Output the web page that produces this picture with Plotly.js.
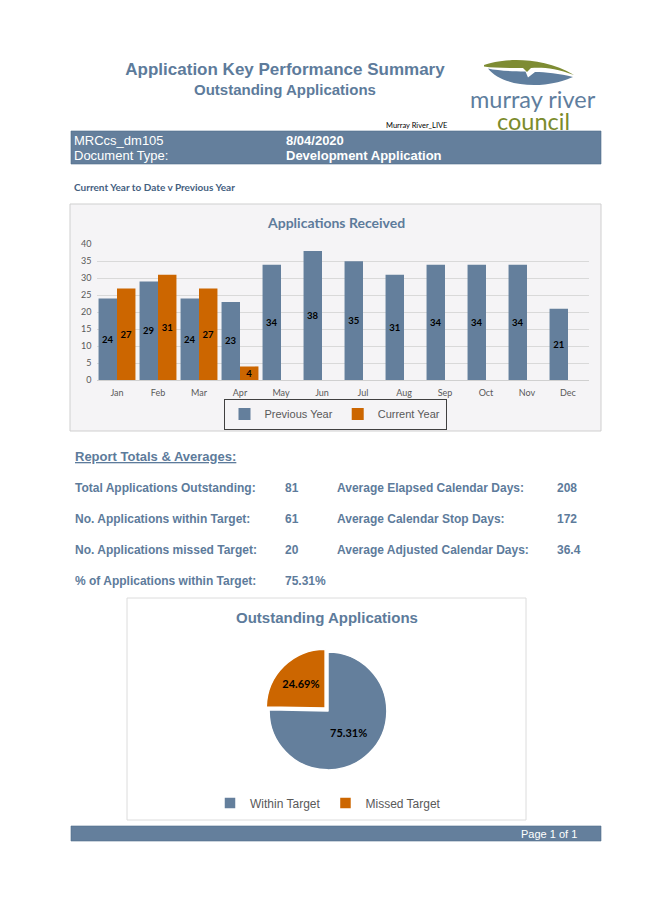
<!DOCTYPE html>
<html>
<head>
<meta charset="utf-8">
<script src="https://cdn.plot.ly/plotly-3.0.1.min.js"></script>
<style>html,body{margin:0;padding:0;background:#fff;}#chart{width:645px;height:912px;}</style>
</head>
<body>
<div id="chart"></div>
<script>
// ---- data ----
const months = ['Jan','Feb','Mar','Apr','May','Jun','Jul','Aug','Sep','Oct','Nov','Dec'];
const previousYear = [24,29,24,23,34,38,35,31,34,34,34,21];
const currentMonths = ['Jan','Feb','Mar','Apr'];
const currentYear = [27,31,27,4];
const yTicks = [0,5,10,15,20,25,30,35,40];
const pieLabels = ['Within Target','Missed Target'];
const pieValues = [61,20];
const leftStatLabels = ['Total Applications Outstanding:','No. Applications within Target:','No. Applications missed Target:','% of Applications within Target:'];
const leftStatValues = ['81','61','20','75.31%'];
const rightStatLabels = ['Average Elapsed Calendar Days:','Average Calendar Stop Days:','Average Adjusted Calendar Days:'];
const rightStatValues = ['208','172','36.4'];
const headerLabels = ['MRCcs_dm105','Document Type:'];
const headerValues = ['8/04/2020','Development Application'];

// ---- helpers ----
const W = 645, H = 912;
const fx = x => x / W;
const fy = y => 1 - y / H;
const P = (x, y) => fx(x).toFixed(5) + ',' + fy(y).toFixed(5);

const BLUE = '#647f9c';
const ORANGE = '#cc6600';
const TXT = '#5d7b9b';
const ARIAL = 'Liberation Sans, Arial, sans-serif';
const CAL = 'Lato, Carlito, Calibri, sans-serif';

const traces = [
  {
    type: 'bar', name: 'Previous Year', x: months, y: previousYear,
    marker: {color: BLUE},
    text: previousYear.map(String), textposition: 'inside', insidetextanchor: 'middle',
    textangle: 0, constraintext: 'none',
    textfont: {family: CAL, size: 9.5, color: '#000', weight: 700},
    xaxis: 'x', yaxis: 'y', legend: 'legend', hoverinfo: 'x+y'
  },
  {
    type: 'bar', name: 'Current Year', x: currentMonths, y: currentYear,
    marker: {color: ORANGE},
    text: currentYear.map(String), textposition: 'inside', insidetextanchor: 'middle',
    textangle: 0, constraintext: 'none',
    textfont: {family: CAL, size: 9.5, color: '#000', weight: 700},
    xaxis: 'x', yaxis: 'y', legend: 'legend', hoverinfo: 'x+y'
  },
  {
    type: 'pie', labels: pieLabels, values: pieValues, sort: false,
    direction: 'clockwise', rotation: 0, pull: [0, 0.07],
    marker: {colors: [BLUE, ORANGE], line: {color: '#ffffff', width: 1.5}},
    texttemplate: '%{percent:.2%}', textposition: 'inside',
    insidetextfont: {family: CAL, size: 11, color: '#000', weight: 700},
    domain: {x: [fx(328 - 63), fx(328 + 63)], y: [fy(711 + 63), fy(711 - 63)]},
    legend: 'legend2', showlegend: true
  }
];

const ann = [];
function txt(text, x, y, opt) {
  ann.push(Object.assign({
    text: text, x: fx(x), y: fy(y), xref: 'paper', yref: 'paper',
    showarrow: false, xanchor: 'left', yanchor: 'middle',
    font: {family: ARIAL, size: 11, color: TXT}
  }, opt || {}));
}

// header
txt('<b>Outstanding Applications</b>', 285, 89, {xanchor: 'center', font: {family: ARIAL, size: 15, color: TXT}});
txt('Murray River_LIVE', 416, 125, {xanchor: 'center', font: {family: CAL, size: 7.5, color: '#000'}});
txt('murray river', 533, 99, {xanchor: 'center', font: {family: CAL, size: 23.5, color: '#5f7e9e'}});
txt('council', 533, 121, {xanchor: 'center', font: {family: CAL, size: 23.5, color: '#7b8b2c'}});
headerLabels.forEach((t, i) => txt(t, 72, 140 + i * 16, {font: {family: ARIAL, size: 13, color: '#fff'}}));
headerValues.forEach((t, i) => txt('<b>' + t + '</b>', 284, 140 + i * 16, {font: {family: ARIAL, size: 13, color: '#fff'}}));
txt('<b>Current Year to Date v Previous Year</b>', 72, 187, {font: {family: CAL, size: 10, color: '#44607f'}});
txt('<b>Applications Received</b>', 336, 222, {xanchor: 'center', font: {family: CAL, size: 14, color: TXT}});

// report totals
txt('<b>Report Totals &amp; Averages:</b>', 73, 456, {font: {family: ARIAL, size: 13, color: TXT, lineposition: 'under'}});
leftStatLabels.forEach((t, i) => txt('<b>' + t + '</b>', 73, 488 + i * 31, {font: {family: ARIAL, size: 12, color: TXT}}));
leftStatValues.forEach((t, i) => txt('<b>' + t + '</b>', 283, 488 + i * 31, {font: {family: ARIAL, size: 12, color: TXT}}));
rightStatLabels.forEach((t, i) => txt('<b>' + t + '</b>', 335, 488 + i * 31, {font: {family: ARIAL, size: 12, color: TXT}}));
rightStatValues.forEach((t, i) => txt('<b>' + t + '</b>', 555, 488 + i * 31, {font: {family: ARIAL, size: 12, color: TXT}}));

txt('<b>Outstanding Applications</b>', 327, 617, {xanchor: 'center', font: {family: ARIAL, size: 15, color: TXT}});
txt('Page 1 of 1', 579, 834, {xanchor: 'right', font: {family: ARIAL, size: 11, color: '#fff'}});

const shapes = [
  // header band
  {type: 'rect', xref: 'paper', yref: 'paper', x0: fx(71), x1: fx(601), y0: fy(164), y1: fy(131),
   fillcolor: BLUE, line: {color: '#4f6b89', width: 0.6}, layer: 'below'},
  // bar chart frame
  {type: 'rect', xref: 'paper', yref: 'paper', x0: fx(70), x1: fx(601), y0: fy(431), y1: fy(204),
   fillcolor: '#f5f4f6', line: {color: '#cfcfcf', width: 1}, layer: 'below'},
  // pie frame
  {type: 'rect', xref: 'paper', yref: 'paper', x0: fx(127), x1: fx(526), y0: fy(820), y1: fy(598),
   fillcolor: '#ffffff', line: {color: '#dcdcdc', width: 1}, layer: 'below'},
  // footer band
  {type: 'rect', xref: 'paper', yref: 'paper', x0: fx(71), x1: fx(601), y0: fy(841), y1: fy(826),
   fillcolor: BLUE, line: {color: '#4f6b89', width: 0.6}, layer: 'below'},
  // logo swoosh - green
  {type: 'path', xref: 'paper', yref: 'paper', layer: 'above', line: {width: 0}, fillcolor: '#7e8c33',
   path: 'M ' + P(484, 65) + ' C ' + P(500, 59) + ' ' + P(540, 55) + ' ' + P(574, 75) +
         ' C ' + P(556, 68) + ' ' + P(541, 67) + ' ' + P(531, 68) +
         ' L ' + P(527, 72) + ' L ' + P(523, 68) +
         ' C ' + P(506, 68) + ' ' + P(493, 68) + ' ' + P(484, 66.5) + ' Z'},
  // logo swoosh - blue
  {type: 'path', xref: 'paper', yref: 'paper', layer: 'above', line: {width: 0}, fillcolor: '#5f7e9e',
   path: 'M ' + P(488, 68.5) + ' C ' + P(498, 81) + ' ' + P(520, 87) + ' ' + P(545, 84.5) +
         ' C ' + P(558, 83) + ' ' + P(566, 80) + ' ' + P(573, 77) +
         ' C ' + P(560, 73.5) + ' ' + P(545, 72) + ' ' + P(535, 72) +
         ' L ' + P(528, 77.5) + ' L ' + P(525.5, 71.5) +
         ' C ' + P(510, 71.5) + ' ' + P(497, 70.5) + ' ' + P(488, 68.5) + ' Z'}
];

const layout = {
  width: W, height: H,
  margin: {l: 0, r: 0, t: 0, b: 0},
  paper_bgcolor: '#ffffff', plot_bgcolor: 'rgba(0,0,0,0)',
  title: {text: '<b>Application Key Performance Summary</b>', x: fx(285), y: fy(69),
          xref: 'paper', yref: 'paper', xanchor: 'center', yanchor: 'middle',
          font: {family: ARIAL, size: 17, color: TXT}},
  barmode: 'group', bargap: 0.1, bargroupgap: 0,
  xaxis: {domain: [fx(96.5), fx(588.5)], anchor: 'y', type: 'category',
          categoryorder: 'array', categoryarray: months, range: [-0.5, 11.5],
          showgrid: false, showline: true, linecolor: '#d0d0d0', linewidth: 1,
          ticks: '', ticklabelstandoff: 4,
          tickfont: {family: CAL, size: 9, color: '#595959'}, fixedrange: true},
  yaxis: {domain: [fy(380), fy(244.3)], anchor: 'x', range: [0, 40],
          tickvals: yTicks, showgrid: true, gridcolor: '#d9d9d9', gridwidth: 1,
          zeroline: false, showline: false, ticks: '', ticklabelstandoff: 4,
          tickfont: {family: CAL, size: 9, color: '#595959'}, fixedrange: true},
  legend: {orientation: 'h', x: fx(335), xanchor: 'center', y: fy(414), yanchor: 'middle',
           bordercolor: '#404040', borderwidth: 1, bgcolor: 'rgba(255,255,255,0)', itemwidth: 30,
           font: {family: ARIAL, size: 11, color: '#595959'}, itemclick: false, itemdoubleclick: false},
  legend2: {orientation: 'h', x: fx(328), xanchor: 'center', y: fy(803), yanchor: 'middle', itemwidth: 30,
            bgcolor: 'rgba(255,255,255,0)', font: {family: ARIAL, size: 12, color: '#595959'},
            itemclick: false, itemdoubleclick: false},
  annotations: ann,
  shapes: shapes,
  showlegend: true
};

Plotly.newPlot('chart', traces, layout, {displayModeBar: false, staticPlot: true});
</script>
</body>
</html>
